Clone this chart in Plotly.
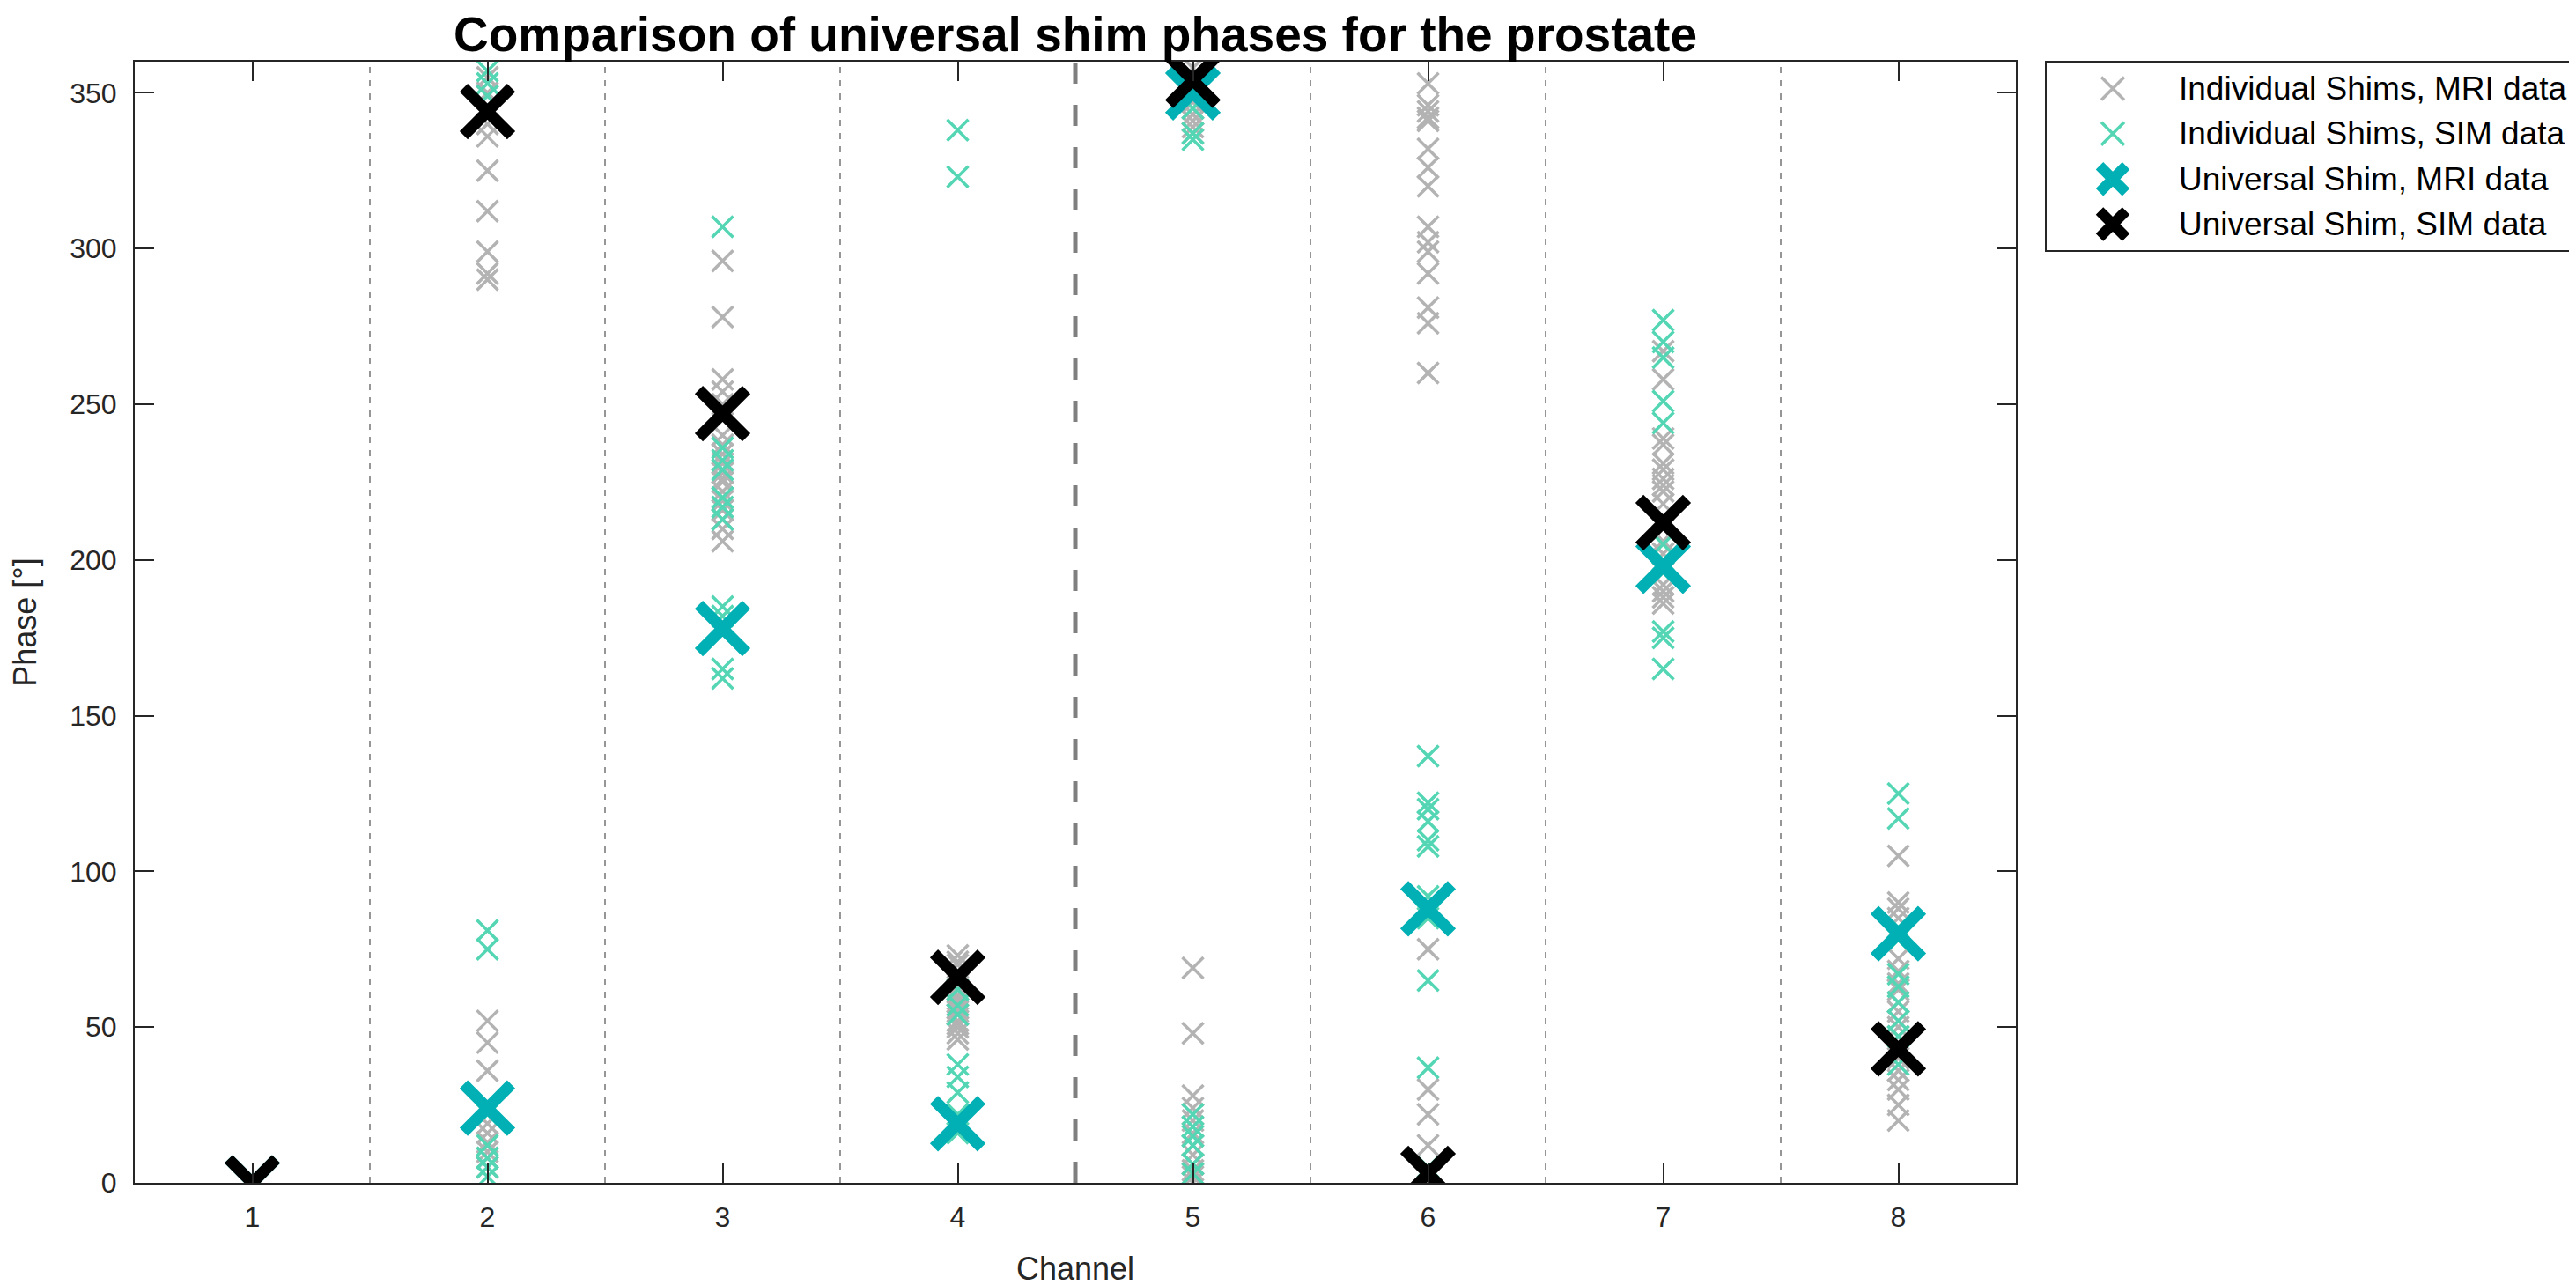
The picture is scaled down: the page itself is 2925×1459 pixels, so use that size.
import plotly.graph_objects as go

# ---------------- data ----------------
channels = [1, 2, 3, 4, 5, 6, 7, 8]
channel_labels = ["1", "2", "3", "4", "5", "6", "7", "8"]
y_ticks = [0, 50, 100, 150, 200, 250, 300, 350]

# Individual shims, MRI data (phase in degrees)
mri_ch1 = [0] * 20
mri_ch2 = [355, 350, 345, 340, 336, 325, 312, 299, 292, 290, 52, 45, 36, 25, 19, 16, 13, 10, 8, 5]
mri_ch3 = [296, 278, 258, 254, 250, 247, 245, 240, 237, 234, 231, 228, 226, 225, 222, 219, 216, 213, 210, 206]
mri_ch4 = [73, 71, 70, 68, 66, 65, 64, 63, 62, 60, 59, 58, 56, 55, 54, 52, 51, 50, 48, 46]
mri_ch5 = [358, 352, 347, 345, 343, 341, 339, 337, 69, 48, 28, 24, 20, 16, 12, 9, 6, 4, 2, 0]
mri_ch6 = [353, 346, 344, 342, 341, 332, 326, 320, 307, 302, 299, 292, 281, 276, 260, 75, 30, 22, 12, 4]
mri_ch7 = [267, 258, 239, 237, 231, 229, 226, 224, 222, 218, 214, 210, 206, 202, 198, 196, 192, 190, 188, 186]
mri_ch8 = [105, 90, 88, 85, 72, 68, 64, 62, 58, 55, 52, 50, 47, 44, 40, 36, 33, 30, 25, 20]

# Individual shims, SIM data
sim_ch1 = [0] * 11
sim_ch2 = [357, 353, 349, 345, 81, 75, 22, 12, 8, 5, 2]
sim_ch3 = [307, 236, 232, 229, 220, 217, 213, 185, 182, 165, 162]
sim_ch4 = [338, 323, 62, 57, 54, 38, 34, 29, 22, 19, 16]
sim_ch5 = [355, 350, 345, 337, 335, 22, 18, 15, 12, 6, 3]
sim_ch6 = [137, 122, 120, 116, 110, 108, 92, 85, 65, 37, 5]
sim_ch7 = [277, 270, 265, 251, 244, 205, 200, 196, 177, 175, 165]
sim_ch8 = [125, 117, 82, 78, 67, 63, 58, 52, 47, 42, 38]

# Universal shims
universal_mri = [0, 24, 178, 19, 350, 88, 198, 80]
universal_sim = [0, 344, 247, 66, 354, 3, 212, 43]

legend_labels = [
    "Individual Shims, MRI data",
    "Individual Shims, SIM data",
    "Universal Shim, MRI data",
    "Universal Shim, SIM data",
]

# ---------------- styles ----------------
FONT = "Liberation Sans, Arial, Helvetica, sans-serif"
AX_COLOR = "#262626"
GRAY = "#b3b3b3"
MINT = "#54d6b4"
TEAL = "#00b0b4"
BLACK = "#000000"


def small_x(color, size=24):
    return dict(symbol="x-thin", size=size, color=color, line=dict(width=3.5, color=color))


def big_x(color, size=54, width=13):
    return dict(symbol="x-thin", size=size, color=color, line=dict(width=width, color=color))


styles = [small_x(GRAY), small_x(MINT), big_x(TEAL), big_x(BLACK)]
legend_styles = [small_x(GRAY, 26), small_x(MINT, 26), big_x(TEAL, 30, 12), big_x(BLACK, 30, 12)]

mri_individual = [mri_ch1, mri_ch2, mri_ch3, mri_ch4, mri_ch5, mri_ch6, mri_ch7, mri_ch8]
sim_individual = [sim_ch1, sim_ch2, sim_ch3, sim_ch4, sim_ch5, sim_ch6, sim_ch7, sim_ch8]


def flatten(groups):
    xs, ys = [], []
    for ch, vals in zip(channels, groups):
        xs += [ch] * len(vals)
        ys += list(vals)
    return xs, ys


fig = go.Figure()

mx, my = flatten(mri_individual)
sx, sy = flatten(sim_individual)
series = [(mx, my), (sx, sy), (channels, universal_mri), (channels, universal_sim)]
for (xs, ys), st, name in zip(series, styles, legend_labels):
    fig.add_trace(go.Scatter(x=xs, y=ys, mode="markers", marker=st, name=name,
                             showlegend=False, cliponaxis=True, xaxis="x", yaxis="y"))

# ---------------- channel dividers ----------------
mid = len(channels) // 2
for i in range(len(channels) - 1):
    b = (channels[i] + channels[i + 1]) / 2
    thick = (i + 1 == mid)
    fig.add_shape(type="line", xref="x", yref="y domain", x0=b, x1=b, y0=0, y1=1,
                  layer="below",
                  line=dict(color="#7f7f7f" if thick else "#969696",
                            width=5 if thick else 2,
                            dash="24px,24px" if thick else "7px,8px"))

W, H = 2925, 1459
L, R, T, B = 145, 2, 62, 124
pw = W - L - R
ph = H - T - B
plot_right = 2281
leg_left, leg_top, leg_bottom = 2315, 62, 277
row_gap = 51.3
mk_off, txt_off = 76, 149

# ---------------- manual legend (separate hidden axes) ----------------
for i, (st, name) in enumerate(zip(legend_styles, legend_labels)):
    fig.add_trace(go.Scatter(x=[0], y=[i], mode="markers", marker=st, name=name,
                             showlegend=False, xaxis="x2", yaxis="y2", hoverinfo="skip"))
    fig.add_annotation(xref="x2", yref="y2", x=0, y=i, text=name, showarrow=False,
                       xanchor="left", yanchor="middle", xshift=txt_off - mk_off,
                       font=dict(family=FONT, size=37, color="#000000"))

fig.add_shape(type="rect", xref="x2 domain", yref="y2 domain", x0=0, x1=1, y0=0, y1=1,
              line=dict(color=AX_COLOR, width=2), fillcolor="white", layer="below")

axis_common = dict(showline=True, linecolor=AX_COLOR, linewidth=2, mirror="ticks",
                   ticks="inside", ticklen=22, tickwidth=2, tickcolor=AX_COLOR,
                   showgrid=False, zeroline=False,
                   tickfont=dict(family=FONT, size=32, color=AX_COLOR))

leg_h = leg_bottom - leg_top
first_row = (leg_h - 3 * row_gap) / 2  # px from legend top to first row centre

fig.update_layout(
    width=W, height=H,
    margin=dict(l=L, r=R, t=T, b=B),
    paper_bgcolor="white", plot_bgcolor="white",
    showlegend=False,
    title=dict(text="<b>Comparison of universal shim phases for the prostate</b>",
               font=dict(family=FONT, size=55, color="#000000"),
               x=((L + plot_right) / 2 - L) / pw, xref="paper", xanchor="center",
               y=1 - 31 / H, yref="container", yanchor="middle"),
    xaxis=dict(axis_common, domain=[0, (plot_right - L) / pw], range=[0.5, 8.5],
               tickvals=channels, ticktext=channel_labels, ticklabelstandoff=10,
               title=dict(text="Channel", standoff=28,
                          font=dict(family=FONT, size=36, color=AX_COLOR))),
    yaxis=dict(axis_common, domain=[0, 1], range=[0, 360], tickvals=y_ticks,
               ticklabelstandoff=12,
               title=dict(text="Phase [°]", standoff=34,
                          font=dict(family=FONT, size=36, color=AX_COLOR))),
    xaxis2=dict(domain=[(leg_left - L) / pw, 1], range=[-mk_off, W - R - leg_left - mk_off],
                visible=False, anchor="y2", fixedrange=True),
    yaxis2=dict(domain=[1 - (leg_bottom - T) / ph, 1 - (leg_top - T) / ph],
                range=[3 + (leg_h - first_row - 3 * row_gap) / row_gap, -first_row / row_gap],
                visible=False, anchor="x2", fixedrange=True),
)

fig.write_html("out.html")
